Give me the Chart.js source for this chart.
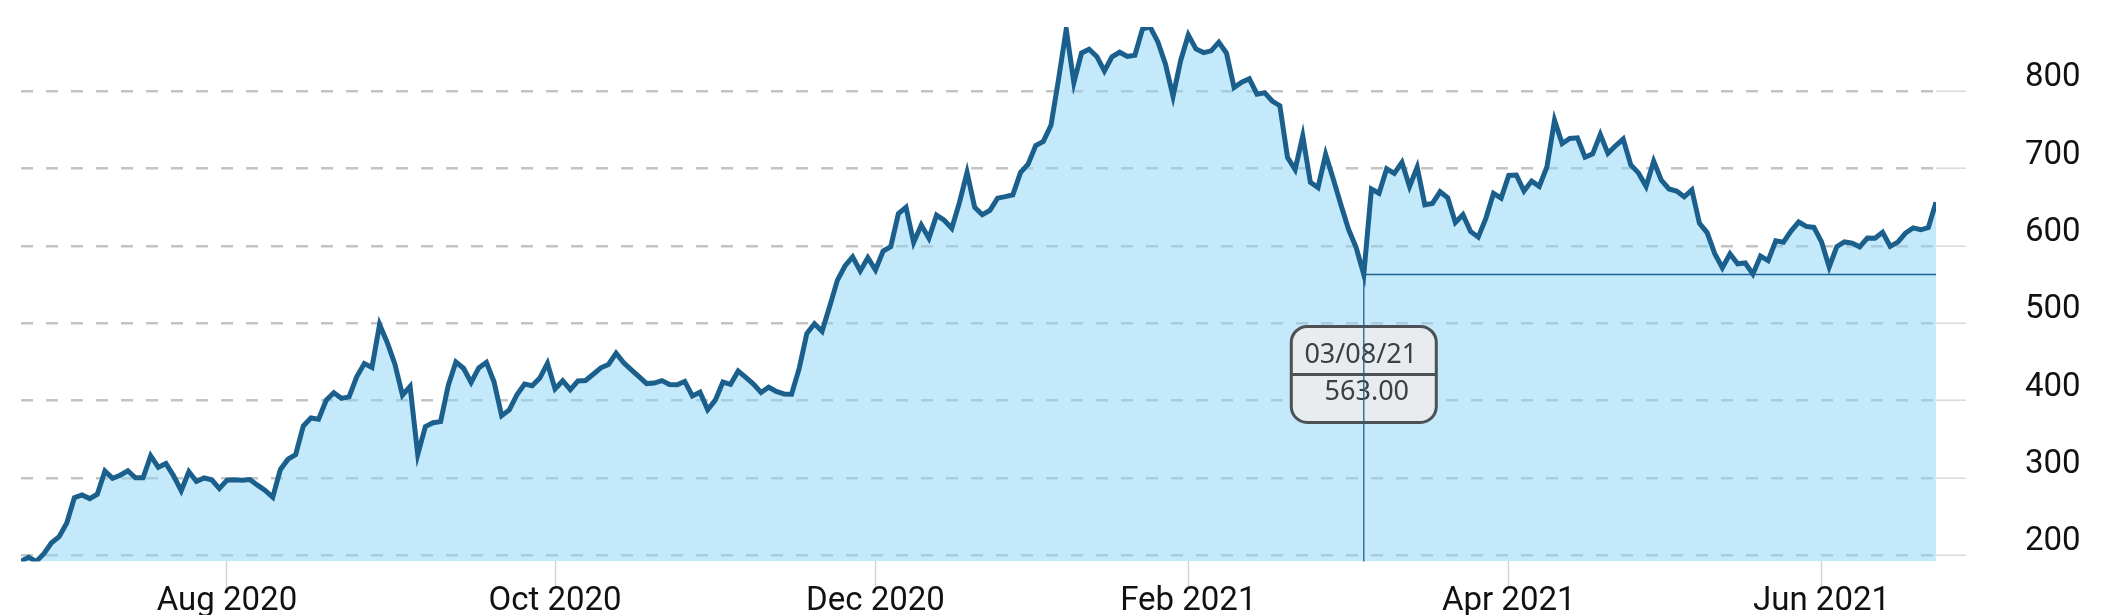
<!DOCTYPE html>
<html lang="en">
<head>
<meta charset="UTF-8">
<title>Price chart</title>
<script src="https://cdn.jsdelivr.net/npm/chart.js"></script>
<style>
  html, body { margin: 0; padding: 0; background: #fff; }
  .wrap { position: relative; width: 2101px; height: 615px; }
</style>
</head>
<body>
<div class="wrap"><canvas id="priceChart"></canvas></div>
<script>
// trading days, MM/DD/YY
const dates = `
06/24/20 06/25/20 06/26/20 06/29/20 06/30/20
07/01/20 07/02/20 07/06/20 07/07/20 07/08/20 07/09/20 07/10/20 07/13/20 07/14/20 07/15/20 07/16/20 07/17/20 07/20/20 07/21/20 07/22/20 07/23/20 07/24/20 07/27/20 07/28/20 07/29/20 07/30/20 07/31/20
08/03/20 08/04/20 08/05/20 08/06/20 08/07/20 08/10/20 08/11/20 08/12/20 08/13/20 08/14/20 08/17/20 08/18/20 08/19/20 08/20/20 08/21/20 08/24/20 08/25/20 08/26/20 08/27/20 08/28/20 08/31/20
09/01/20 09/02/20 09/03/20 09/04/20 09/08/20 09/09/20 09/10/20 09/11/20 09/14/20 09/15/20 09/16/20 09/17/20 09/18/20 09/21/20 09/22/20 09/23/20 09/24/20 09/25/20 09/28/20 09/29/20 09/30/20
10/01/20 10/02/20 10/05/20 10/06/20 10/07/20 10/08/20 10/09/20 10/12/20 10/13/20 10/14/20 10/15/20 10/16/20 10/19/20 10/20/20 10/21/20 10/22/20 10/23/20 10/26/20 10/27/20 10/28/20 10/29/20 10/30/20
11/02/20 11/03/20 11/04/20 11/05/20 11/06/20 11/09/20 11/10/20 11/11/20 11/12/20 11/13/20 11/16/20 11/17/20 11/18/20 11/19/20 11/20/20 11/23/20 11/24/20 11/25/20 11/27/20 11/30/20
12/01/20 12/02/20 12/03/20 12/04/20 12/07/20 12/08/20 12/09/20 12/10/20 12/11/20 12/14/20 12/15/20 12/16/20 12/17/20 12/18/20 12/21/20 12/22/20 12/23/20 12/24/20 12/28/20 12/29/20 12/30/20 12/31/20
01/04/21 01/05/21 01/06/21 01/07/21 01/08/21 01/11/21 01/12/21 01/13/21 01/14/21 01/15/21 01/19/21 01/20/21 01/21/21 01/22/21 01/25/21 01/26/21 01/27/21 01/28/21 01/29/21
02/01/21 02/02/21 02/03/21 02/04/21 02/05/21 02/08/21 02/09/21 02/10/21 02/11/21 02/12/21 02/16/21 02/17/21 02/18/21 02/19/21 02/22/21 02/23/21 02/24/21 02/25/21 02/26/21
03/01/21 03/02/21 03/03/21 03/04/21 03/05/21 03/08/21 03/09/21 03/10/21 03/11/21 03/12/21 03/15/21 03/16/21 03/17/21 03/18/21 03/19/21 03/22/21 03/23/21 03/24/21 03/25/21 03/26/21 03/29/21 03/30/21 03/31/21
04/01/21 04/05/21 04/06/21 04/07/21 04/08/21 04/09/21 04/12/21 04/13/21 04/14/21 04/15/21 04/16/21 04/19/21 04/20/21 04/21/21 04/22/21 04/23/21 04/26/21 04/27/21 04/28/21 04/29/21 04/30/21
05/03/21 05/04/21 05/05/21 05/06/21 05/07/21 05/10/21 05/11/21 05/12/21 05/13/21 05/14/21 05/17/21 05/18/21 05/19/21 05/20/21 05/21/21 05/24/21 05/25/21 05/26/21 05/27/21 05/28/21
06/01/21 06/02/21 06/03/21 06/04/21 06/07/21 06/08/21 06/09/21 06/10/21 06/11/21 06/14/21 06/15/21 06/16/21 06/17/21 06/18/21 06/21/21 06/22/21 06/23/21
`.trim().split(/\s+/);

// closing prices, one per trading day
const prices = [
  192.17, 197.20, 191.95, 201.87, 215.96,
  223.93, 241.73, 274.32, 277.97, 273.18, 278.86, 308.93, 299.41, 303.36, 309.20, 300.13, 300.17, 328.60, 313.67, 318.47, 302.61, 283.40, 307.92, 295.30, 299.82, 297.50, 286.15,
  297.00, 297.40, 297.00, 297.92, 290.54, 283.71, 274.88, 310.95, 324.20, 330.14, 367.13, 377.42, 375.71, 400.37, 410.00, 402.84, 404.67, 430.63, 447.75, 442.68, 498.32,
  475.05, 447.37, 407.00, 418.32, 330.21, 366.28, 371.34, 372.72, 419.62, 449.76, 441.76, 423.43, 442.15, 449.39, 424.23, 380.36, 387.79, 407.34, 421.20, 419.07, 429.01,
  448.16, 415.09, 425.68, 413.98, 425.30, 425.92, 434.00, 442.30, 446.65, 461.30, 448.88, 439.67, 430.83, 421.94, 422.64, 425.79, 420.63, 420.28, 424.68, 406.02, 410.83, 388.04,
  400.51, 423.90, 420.98, 438.09, 429.95, 421.26, 410.36, 417.13, 411.76, 408.50, 408.09, 441.61, 486.64, 499.27, 489.61, 521.85, 555.38, 574.00, 585.76, 567.60,
  584.76, 568.82, 593.38, 599.04, 641.76, 649.88, 604.48, 627.07, 609.99, 639.83, 633.25, 622.77, 655.90, 695.00, 649.86, 640.34, 645.98, 661.77, 663.69, 665.99, 694.78, 705.67,
  729.77, 735.11, 755.98, 816.04, 880.02, 811.19, 849.44, 854.41, 845.00, 826.16, 844.55, 850.45, 844.99, 846.64, 880.80, 883.09, 864.16, 835.43, 793.53,
  839.81, 872.79, 854.69, 849.99, 852.23, 863.42, 849.46, 804.82, 811.66, 816.12, 796.22, 798.15, 787.38, 781.30, 714.50, 698.84, 742.02, 682.22, 675.50,
  718.43, 686.44, 653.20, 621.44, 597.95, 563.00, 673.58, 668.06, 699.60, 693.73, 707.94, 676.88, 701.81, 653.16, 654.87, 670.00, 662.16, 630.27, 640.39, 618.71, 611.29, 635.62, 667.93,
  661.75, 691.05, 691.62, 670.97, 683.80, 677.02, 701.98, 762.32, 732.23, 738.85, 739.78, 714.63, 718.99, 744.12, 719.69, 729.40, 738.20, 704.74, 694.40, 677.00, 709.44,
  684.90, 673.60, 670.94, 663.54, 672.37, 629.04, 617.20, 589.89, 571.69, 589.74, 576.83, 577.87, 563.46, 586.78, 580.88, 606.44, 604.69, 619.13, 630.85, 625.22,
  623.90, 605.12, 572.84, 599.05, 605.13, 603.59, 598.78, 610.12, 609.89, 617.69, 599.36, 604.87, 616.60, 623.31, 620.83, 623.71, 656.57
];

// x axis ticks: where the marks sit, and their text
const xTickDates = ['08/03/20', '10/02/20', '12/02/20', '02/02/21', '04/05/21', '06/02/21'];
const xTickLabels = ['Aug 2020', 'Oct 2020', 'Dec 2020', 'Feb 2021', 'Apr 2021', 'Jun 2021'];
const yTicks = [200, 300, 400, 500, 600, 700, 800];

// the pinned hover point
const tipDate = '03/08/21';

if (dates.length !== prices.length) console.warn('dates/prices mismatch', dates.length, prices.length);

const xTickIdx = xTickDates.map(d => dates.indexOf(d));

// draws the fixed tooltip box, then the crosshair over it
const pinnedTip = {
  id: 'pinnedTip',
  afterDraw(chart) {
    const idx = dates.indexOf(tipDate);
    const pt = chart.getDatasetMeta(0).data[idx];
    if (!pt) return;
    const area = chart.chartArea;
    const ctx = chart.ctx;
    ctx.save();

    const w = 145, h = 96, r = 16;
    const bx = pt.x - w / 2, by = pt.y + 52;
    ctx.beginPath();
    ctx.roundRect(bx, by, w, h, r);
    ctx.fillStyle = '#e8ecee';
    ctx.fill();
    ctx.lineWidth = 3;
    ctx.strokeStyle = '#4b5155';
    ctx.stroke();
    ctx.beginPath();
    ctx.moveTo(bx, by + h / 2);
    ctx.lineTo(bx + w, by + h / 2);
    ctx.stroke();

    ctx.fillStyle = '#3b4043';
    ctx.font = '27px "Noto Sans"';
    ctx.textAlign = 'center';
    ctx.textBaseline = 'middle';
    ctx.fillText(tipDate, pt.x - 3, by + 29);
    ctx.fillText(prices[idx].toFixed(2), pt.x + 3, by + 66);

    ctx.lineWidth = 1.3;
    ctx.strokeStyle = '#1d6291';
    ctx.beginPath();
    ctx.moveTo(pt.x, pt.y);
    ctx.lineTo(pt.x, area.bottom);
    ctx.moveTo(pt.x, pt.y);
    ctx.lineTo(area.right, pt.y);
    ctx.stroke();
    ctx.restore();
  }
};

const ctx = document.getElementById('priceChart').getContext('2d');
const priceChart = new Chart(ctx, {
  type: 'line',
  data: {
    labels: dates,
    datasets: [{
      data: prices,
      borderColor: '#1b5f8d',
      borderWidth: 5,
      backgroundColor: 'rgba(135, 211, 248, 0.5)',
      fill: 'start',
      pointRadius: 0,
      tension: 0,
      clip: 0
    }]
  },
  options: {
    responsive: true,
    maintainAspectRatio: false,
    animation: false,
    layout: { padding: { left: 21, top: 27, right: 15, bottom: 0 } },
    plugins: {
      legend: { display: false },
      tooltip: { enabled: false }
    },
    scales: {
      x: {
        type: 'category',
        offset: false,
        grid: {
          drawOnChartArea: false,
          drawTicks: true,
          tickLength: 28,
          tickColor: '#d4d4d4',
          tickWidth: 1.5
        },
        border: { display: false },
        afterBuildTicks: scale => { scale.ticks = xTickIdx.map(i => ({ value: i })); },
        ticks: {
          autoSkip: false,
          maxRotation: 0,
          padding: -7,
          color: '#111',
          font: { family: 'Roboto', size: 33 },
          callback: v => xTickLabels[xTickIdx.indexOf(v)]
        }
      },
      y: {
        position: 'right',
        min: Math.min(...prices),
        max: Math.max(...prices),
        afterBuildTicks: scale => { scale.ticks = yTicks.map(v => ({ value: v })); },
        afterFit: scale => {
          scale.width = 150;
          scale.paddingTop = 0;
          scale.paddingBottom = 0;
        },
        grid: {
          color: '#c4c4c4',
          lineWidth: 2.4,
          drawTicks: true,
          tickLength: 30,
          tickColor: '#dadada',
          tickWidth: 1.5
        },
        border: { display: false, dash: [12, 13] },
        ticks: {
          padding: 59,
          labelOffset: -13,
          color: '#111',
          font: { family: 'Roboto', size: 33 }
        }
      }
    }
  },
  plugins: [pinnedTip]
});
</script>
</body>
</html>
